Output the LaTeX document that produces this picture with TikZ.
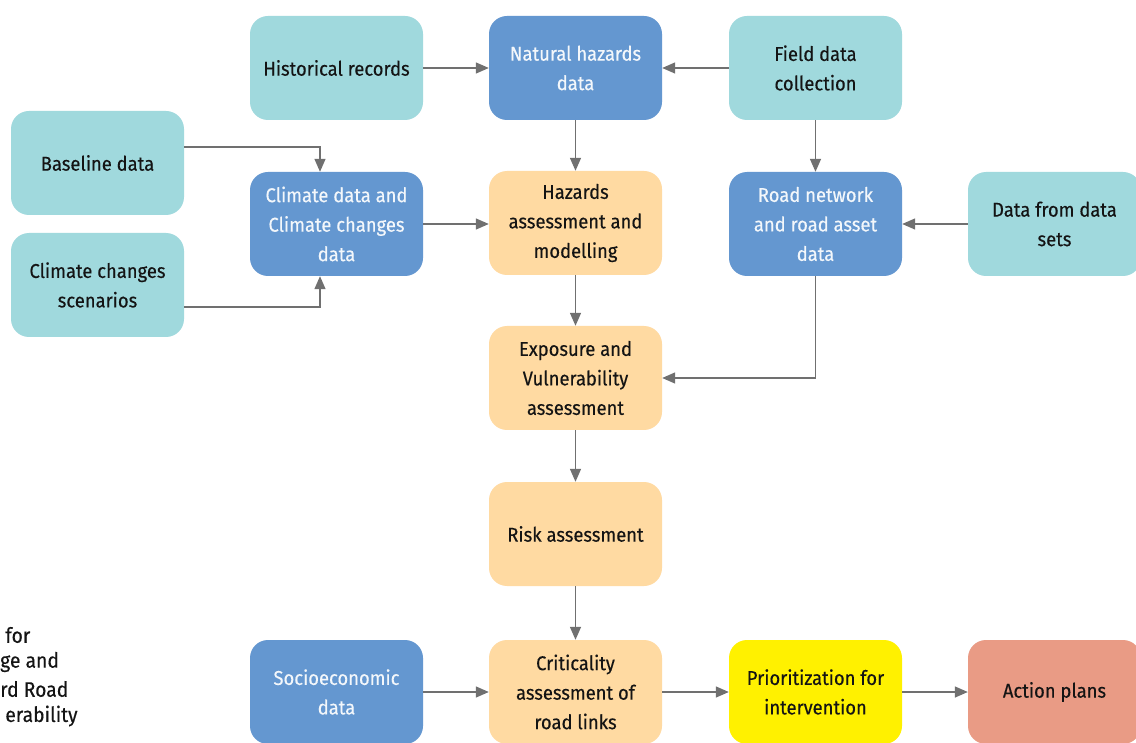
\documentclass[tikz,border=0pt]{standalone}
\usepackage{fontspec}
\setmainfont{Fira Sans}[FakeStretch=0.92, FakeBold=0.3]
\usetikzlibrary{arrows.meta}
\definecolor{teal}{HTML}{A0D9DD}
\definecolor{bluebox}{HTML}{6497D0}
\definecolor{orangebox}{HTML}{FFDAA2}
\definecolor{yellowbox}{HTML}{FFF100}
\definecolor{salmonbox}{HTML}{E99B85}
\definecolor{arrowgray}{HTML}{707070}
\definecolor{txtdark}{HTML}{141414}
\tikzset{
  box/.style={rounded corners=18pt, minimum width=173pt, minimum height=104pt,
    align=center, inner sep=2pt, font=\fontsize{20}{29.5}\selectfont, text=txtdark},
  tealbox/.style={box, fill=teal},
  bluebx/.style={box, fill=bluebox, text=white!92!bluebox},
  orangebx/.style={box, fill=orangebox},
  yellowbx/.style={box, fill=yellowbox},
  salmonbx/.style={box, fill=salmonbox},
  conn/.style={draw=arrowgray, line width=1.4pt, -{Triangle[length=13pt,width=11pt]}},
  sidetext/.style={anchor=west, font=\fontsize{21}{27}\selectfont, text=txtdark, inner sep=0pt}
}
\begin{document}
\begin{tikzpicture}[x=1pt,y=-1pt]
\clip (0,0) rectangle (1136,743);
\fill[white] (0,0) rectangle (1136,743);

\node[tealbox] (hist) at (336.5,68) {Historical records};
\node[bluebx] (nat) at (575.5,68) {Natural hazards\\data};
\node[tealbox] (field) at (815.5,68) {Field data\\collection};
\node[tealbox] (base) at (97.5,163) {Baseline data};
\node[bluebx] (clim) at (336.5,224) {Climate data and\\Climate changes\\data};
\node[orangebx] (haz) at (575.5,223) {Hazards\\assessment and\\modelling};
\node[bluebx] (road) at (815.5,224) {Road network\\and road asset\\data};
\node[tealbox] (sets) at (1054.5,224) {Data from data\\sets};
\node[tealbox] (scen) at (97.5,285) {Climate changes\\scenarios};
\node[orangebx] (expo) at (575.5,378) {Exposure and\\Vulnerability\\assessment};
\node[orangebx] (risk) at (575.5,534) {Risk assessment};
\node[bluebx] (socio) at (336.5,692) {Socioeconomic\\data};
\node[orangebx] (crit) at (575.5,692) {Criticality\\assessment of\\road links};
\node[yellowbx] (prio) at (815.5,692) {Prioritization for\\intervention};
\node[salmonbx] (act) at (1054.5,692) {Action plans};

\coordinate (bk) at (320,147);
\coordinate (sk) at (320,307);
\coordinate (rk) at (815.5,378);

\draw[conn] (hist.east) -- (nat.west);
\draw[conn] (field.west) -- (nat.east);
\draw[conn] (nat.south) -- (haz.north);
\draw[conn] (field.south) -- (road.north);
\draw[conn] (base.east |- bk) -- (bk) -- (bk |- clim.north);
\draw[conn] (scen.east |- sk) -- (sk) -- (sk |- clim.south);
\draw[conn] (clim.east) -- (clim.east -| haz.west);
\draw[conn] (sets.west) -- (road.east);
\draw[conn] (haz.south) -- (expo.north);
\draw[conn] (road.south) -- (rk) -- (expo.east);
\draw[conn] (expo.south) -- (risk.north);
\draw[conn] (risk.south) -- (crit.north);
\draw[conn] (socio.east) -- (crit.west);
\draw[conn] (crit.east) -- (prio.west);
\draw[conn] (prio.east) -- (act.west);

\node[sidetext] (s1) at (0,635) {\ for};
\node[sidetext] (s2) at (0,662) {ge and};
\node[sidetext] (s3) at (0,689) {rd Road};
\node[sidetext] (s4) at (0,716) {\ erability};
\end{tikzpicture}
\end{document}
